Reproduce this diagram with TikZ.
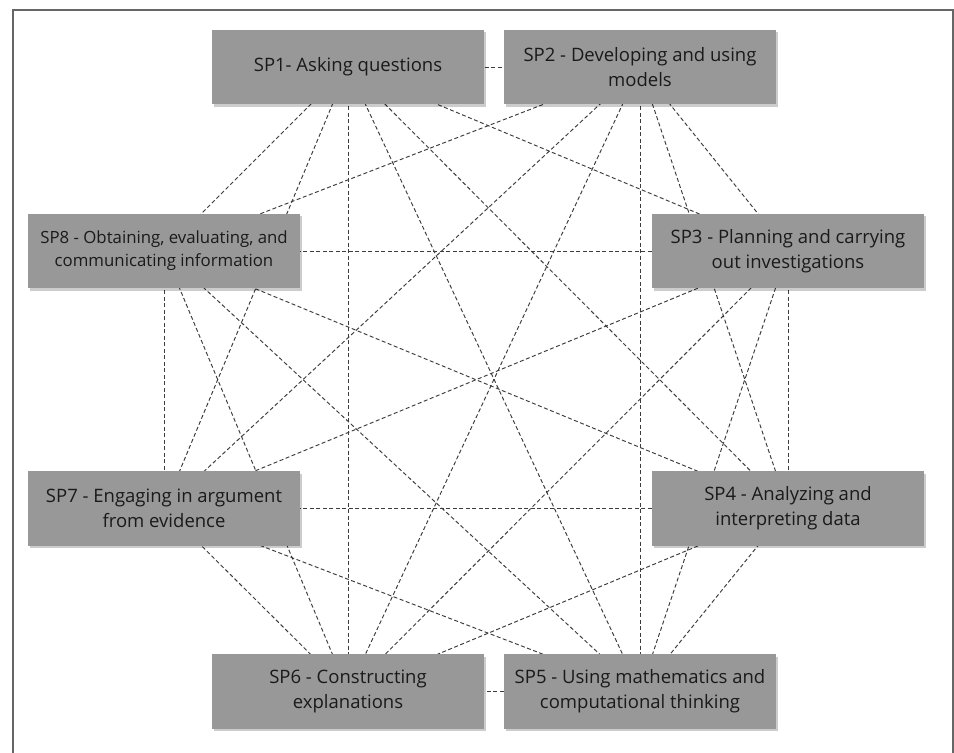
\documentclass[tikz,border=0pt]{standalone}
\usepackage{fontspec}
\setmainfont{Open Sans}
\usetikzlibrary{shadows}
\definecolor{boxgray}{HTML}{989898}
\definecolor{txt}{HTML}{1A1A1A}
\definecolor{edgec}{HTML}{3C3C3C}
\definecolor{framec}{HTML}{666666}
\pgfdeclarelayer{background}
\pgfsetlayers{background,main}
\begin{document}
\begin{tikzpicture}[x=1pt,y=-1pt,
  spbox/.style={fill=boxgray, minimum width=272pt, minimum height=74.5pt, inner sep=0pt,
    align=center, text=txt, font=\fontsize{18.5}{25}\selectfont,
    drop shadow={shadow xshift=2pt,shadow yshift=-2.5pt,opacity=0.2,fill=black}},
  smalltext/.style={font=\fontsize{16.8}{23}\selectfont},
  link/.style={draw=edgec, line width=0.95pt, dash pattern=on 4pt off 2.5pt}]
\useasboundingbox (0,0) rectangle (954,753);
\begin{pgfonlayer}{background}
\fill[white] (0,0) rectangle (954,753);
\end{pgfonlayer}
\coordinate (fbl) at (13,753);
\coordinate (ftl) at (13,10);
\coordinate (ftr) at (953,10);
\coordinate (fbr) at (953,753);
\draw[framec, line width=2pt] (fbl) -- (ftl) -- (ftr) -- (fbr);

\node[spbox] (sp1) at (348,67)    {SP1- Asking questions};
\node[spbox] (sp2) at (640,67)    {SP2 - Developing and using\\models};
\node[spbox] (sp3) at (788,251)   {SP3 - Planning and carrying\\out investigations};
\node[spbox] (sp4) at (788,508.5) {SP4 - Analyzing and\\interpreting data};
\node[spbox] (sp5) at (640,691.5) {SP5 - Using mathematics and\\computational thinking};
\node[spbox] (sp6) at (348,691.5) {SP6 - Constructing\\explanations};
\node[spbox] (sp7) at (164,508.5) {SP7 - Engaging in argument\\from evidence};
\node[spbox,smalltext] (sp8) at (164,251) {SP8 - Obtaining, evaluating, and\\communicating information};

\begin{pgfonlayer}{background}
\foreach \i in {1,...,8}{
  \foreach \j in {1,...,8}{
    \ifnum\i<\j
      \draw[link] (sp\i.center) -- (sp\j.center);
    \fi
  }
}
\end{pgfonlayer}
\end{tikzpicture}
\end{document}
